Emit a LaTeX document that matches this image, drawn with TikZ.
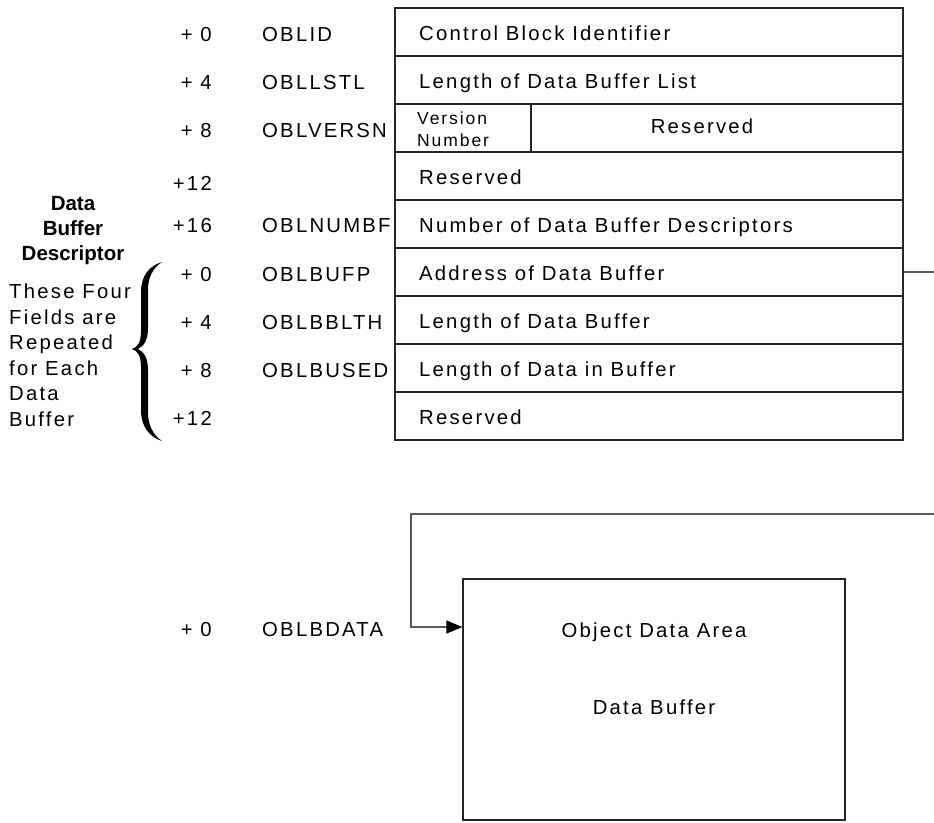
\documentclass[tikz,border=0pt]{standalone}
\usepackage{fontspec}
\setmainfont{Liberation Sans}[LetterSpace=11]
\newfontfamily\plainbold{Liberation Sans}[LetterSpace=0]
\usetikzlibrary{arrows.meta,calc}
\begin{document}
\begin{tikzpicture}[x=1pt,y=-1pt,
  every node/.style={font=\fontsize{20.3}{25.5}\selectfont, inner sep=0pt, text=black},
  cell/.style={draw=black!85, line width=1.2pt, minimum width=508pt, minimum height=48pt},
  txt/.style={anchor=base west},
  off/.style={anchor=base east},
  lbl/.style={anchor=base west},
  small/.style={font=\fontsize{17.5}{22}\selectfont, anchor=base west},
  head/.style={font=\fontsize{20.5}{25}\plainbold\bfseries, anchor=base},
  side/.style={anchor=base west},
  conn/.style={draw=black!65, line width=1.3pt}
]
\path[use as bounding box] (0,0) rectangle (934,822);
\clip (0,0) rectangle (934,822);

% table rows
\foreach \i in {1,...,9} {
  \node[cell] (r\i) at (649,{32+48*(\i-1)}) {};
}
\draw[draw=black!85, line width=1.2pt] (531,104) -- (531,152);

% table texts
\node[txt] (t1) at (419,40.5)  {Control Block Identifier};
\node[txt] (t2) at (419,88.5)  {Length of Data Buffer List};
\node[small] (v1) at (417,124) {Version};
\node[small] (v2) at (417,146) {Number};
\node[anchor=base] (t3) at (702,133) {Reserved};
\node[txt] (t4) at (419,184) {Reserved};
\node[txt] (t5) at (419,232.5) {Number of Data Buffer Descriptors};
\node[txt] (t6) at (419,280.5) {Address of Data Buffer};
\node[txt] (t7) at (419,328.5) {Length of Data Buffer};
\node[txt] (t8) at (419,376.5) {Length of Data in Buffer};
\node[txt] (t9) at (419,424.5) {Reserved};

% offsets
\node[off] (o1) at (212,41)  {+ 0};
\node[off] (o2) at (212,89)  {+ 4};
\node[off] (o3) at (212,137) {+ 8};
\node[off] (o4) at (212,190) {+12};
\node[off] (o5) at (212,232) {+16};
\node[off] (o6) at (212,281) {+ 0};
\node[off] (o7) at (212,329) {+ 4};
\node[off] (o8) at (212,377) {+ 8};
\node[off] (o9) at (212,425) {+12};

% field names
\node[lbl] (n1) at (262,41)  {OBLID};
\node[lbl] (n2) at (262,89)  {OBLLSTL};
\node[lbl] (n3) at (262,137) {OBLVERSN};
\node[lbl] (n5) at (262,232) {OBLNUMBF};
\node[lbl] (n6) at (262,281) {OBLBUFP};
\node[lbl] (n7) at (262,329) {OBLBBLTH};
\node[lbl] (n8) at (262,377) {OBLBUSED};

% left side texts
\node[head] (h1) at (73,210) {Data};
\node[head] (h2) at (73,235) {Buffer};
\node[head] (h3) at (73,260) {Descriptor};
\node[side] (s1) at (9,298) {These Four};
\node[side] (s2) at (9,324) {Fields are};
\node[side] (s3) at (9,349) {Repeated};
\node[side] (s4) at (9,375) {for Each};
\node[side] (s5) at (9,400) {Data};
\node[side] (s6) at (9,426) {Buffer};

% brace
\fill[black] (162,262) .. controls (149,266) and (141,276) .. (141,292)
  -- (141,331) .. controls (141,342) and (138,347) .. (132,349)
  .. controls (138,351) and (141,356) .. (141,367)
  -- (141,410) .. controls (141,426) and (149,437) .. (162,441)
  .. controls (153,435) and (148,425) .. (148,412)
  -- (148,370) .. controls (148,358) and (144,352) .. (138,349)
  .. controls (144,346) and (148,340) .. (148,328)
  -- (148,290) .. controls (148,277) and (153,268) .. (162,262) -- cycle;

% data buffer
\node[draw=black!85, line width=1.2pt, minimum width=382pt, minimum height=241pt] (box) at (654,699.5) {};
\node[anchor=base] (oda) at (654,637) {Object Data Area};
\node[anchor=base] (dbuf) at (654,714) {Data Buffer};
\node[off] (ob) at (212,636) {+ 0};
\node[lbl] (nb) at (262,636) {OBLBDATA};

% connector
\draw[conn, -{Triangle[length=16pt,width=13pt,color=black]}]
  (r6.east) -- (950,272) -- (950,514) -- (411,514) -- (411,627) -- (box.west |- 0,627);
\end{tikzpicture}
\end{document}
